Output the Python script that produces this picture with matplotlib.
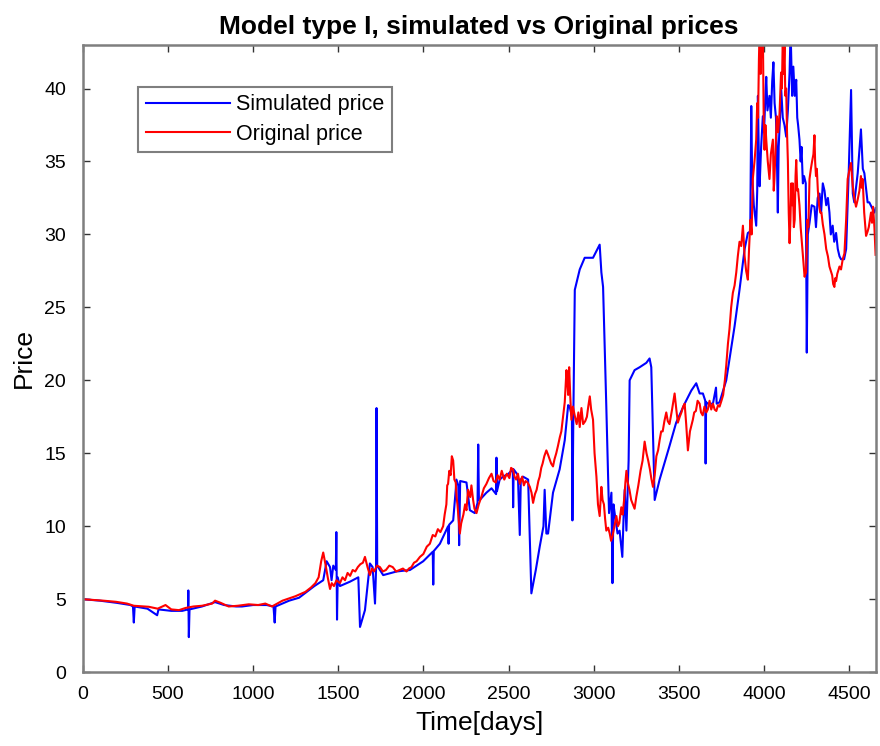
import matplotlib.pyplot as plt

# serie simulada (modelo tipo I) - dias e preco
sim_dias = [0, 100, 200, 280, 295, 300, 305, 380, 437, 445, 520, 584, 618, 620, 623, 627,
            700, 777, 830, 900, 935, 1000, 1080, 1120, 1127, 1132, 1212, 1270, 1315, 1360,
            1412, 1432, 1452, 1461, 1471, 1486, 1489, 1493, 1497, 1510, 1569, 1618, 1628,
            1657, 1686, 1702, 1716, 1722, 1725, 1729, 1764, 1843, 1921, 1999, 2055, 2058,
            2061, 2097, 2145, 2148, 2151, 2175, 2190, 2194, 2205, 2210, 2216, 2253, 2273,
            2302, 2318, 2322, 2326, 2331, 2370, 2400, 2427, 2429, 2432, 2448, 2468, 2500,
            2525, 2527, 2530, 2555, 2566, 2572, 2585, 2615, 2634, 2660, 2683, 2705, 2712,
            2722, 2732, 2761, 2800, 2830, 2850, 2859, 2872, 2875, 2880, 2889, 2918, 2947,
            2996, 3035, 3045, 3055, 3074, 3090, 3104, 3110, 3116, 3123, 3140, 3152, 3168,
            3175, 3182, 3192, 3205, 3211, 3240, 3270, 3309, 3328, 3338, 3358, 3387, 3445,
            3484, 3534, 3573, 3602, 3622, 3641, 3655, 3657, 3660, 3671, 3700, 3718, 3722,
            3739, 3778, 3798, 3827, 3856, 3886, 3905, 3919, 3925, 3930, 3940, 3954, 3960,
            3964, 3970, 3974, 3983, 3993, 4000, 4008, 4013, 4020, 4032, 4040, 4048, 4055,
            4062, 4070, 4076, 4081, 4086, 4090, 4101, 4110, 4120, 4130, 4140, 4150, 4156,
            4160, 4165, 4172, 4180, 4189, 4195, 4200, 4208, 4215, 4220, 4228, 4235, 4245,
            4251, 4257, 4267, 4280, 4296, 4305, 4315, 4326, 4335, 4345, 4355, 4365, 4375,
            4384, 4392, 4403, 4412, 4423, 4433, 4443, 4452, 4470, 4482, 4497, 4511, 4521,
            4530, 4550, 4569, 4580, 4589, 4608, 4618, 4648, 4655]
sim_preco = [5.0, 4.9, 4.75, 4.6, 4.5, 3.4, 4.5, 4.35, 3.9, 4.3, 4.2, 4.2, 4.3, 5.6, 2.4, 4.3,
             4.5, 4.8, 4.6, 4.5, 4.5, 4.6, 4.6, 4.5, 3.4, 4.5, 4.9, 5.1, 5.5, 5.9,
             6.3, 7.6, 7.2, 6.3, 7.3, 7.0, 9.6, 3.6, 6.5, 5.9, 6.2, 6.5, 3.1,
             4.25, 7.45, 7.2, 4.7, 7.0, 18.1, 7.3, 6.65, 6.9, 7.0, 7.6, 8.25, 6.0,
             8.3, 8.8, 10.0, 8.8, 10.1, 10.4, 12.5, 13.2, 12.8, 8.7, 13.1, 13.0, 11.1,
             10.9, 11.6, 15.6, 11.8, 11.8, 12.3, 12.6, 12.2, 14.7, 12.4, 13.2, 13.4, 13.6,
             13.9, 11.3, 13.9, 13.5, 9.4, 13.2, 13.4, 13.2, 5.4, 7.0, 8.6, 10.0, 12.5,
             9.5, 9.5, 12.3, 13.9, 15.9, 18.3, 18.2, 17.5, 10.4, 17.0, 26.2, 27.6, 28.4,
             28.4, 29.3, 27.4, 26.4, 18.2, 10.9, 12.3, 6.1, 11.5, 10.9, 9.5, 9.7, 7.9,
             10.5, 12.5, 9.7, 14.5, 20.0, 20.7, 20.9, 21.2, 21.5, 20.9, 11.8, 13.2, 15.5,
             17.1, 18.4, 19.3, 19.8, 19.1, 19.1, 18.6, 14.3, 18.5, 18.4, 18.4, 19.5, 18.4,
             18.5, 20.0, 21.5, 23.7, 26.2, 29.0, 30.1, 30.2, 38.8, 34.2, 32.0, 30.6, 33.0,
             39.5, 35.0, 33.3, 36.0, 38.1, 37.0, 39.5, 40.8, 38.5, 39.5, 38.0, 40.5, 41.8,
             39.0, 38.0, 35.0, 31.5, 36.0, 37.0, 39.9, 38.0, 37.5, 36.7, 38.5, 41.1, 44.0,
             42.0, 39.5, 41.5, 39.5, 40.6, 38.0, 37.5, 36.5, 35.0, 36.0, 33.5, 34.0, 33.5,
             21.9, 30.0, 30.8, 32.0, 31.9, 30.5, 32.5, 32.8, 31.5, 33.5, 33.0, 32.0, 32.5,
             31.5, 30.0, 30.6, 29.5, 30.1, 29.0, 28.5, 28.3, 28.3, 29.0, 34.2, 39.9, 32.8,
             32.2, 34.2, 37.2, 34.5, 34.2, 32.2, 32.2, 31.5, 31.8]

# serie original
orig_dias = [0, 60, 120, 196, 260, 300, 388, 440, 486, 520, 565, 604, 650, 700, 760, 777, 810,
             857, 910, 975, 1030, 1072, 1111, 1173, 1248, 1307, 1340, 1366, 1385, 1400, 1412,
             1425, 1440, 1452, 1462, 1475, 1490, 1510, 1525, 1540, 1555, 1570, 1585, 1600,
             1615, 1630, 1645, 1657, 1672, 1686, 1698, 1710, 1728, 1745, 1762, 1780, 1800,
             1820, 1840, 1860, 1880, 1901, 1915, 1930, 1945, 1960, 1980, 2000, 2020, 2038,
             2055, 2070, 2085, 2100, 2116, 2125, 2135, 2140, 2145, 2152, 2160, 2167, 2175,
             2182, 2190, 2195, 2200, 2207, 2214, 2222, 2235, 2245, 2253, 2262, 2275, 2282,
             2292, 2300, 2312, 2325, 2340, 2355, 2370, 2385, 2400, 2412, 2425, 2436, 2448,
             2460, 2475, 2490, 2505, 2515, 2526, 2535, 2545, 2555, 2566, 2580, 2590, 2600,
             2612, 2625, 2635, 2644, 2655, 2665, 2675, 2683, 2692, 2700, 2710, 2722, 2732,
             2741, 2750, 2761, 2770, 2780, 2790, 2801, 2810, 2820, 2830, 2840, 2845, 2850,
             2856, 2862, 2869, 2878, 2890, 2900, 2910, 2918, 2928, 2938, 2950, 2960, 2968,
             2977, 2985, 2996, 3005, 3016, 3025, 3035, 3045, 3052, 3060, 3067, 3074, 3085,
             3094, 3102, 3110, 3120, 3133, 3142, 3150, 3162, 3170, 3180, 3186, 3192, 3200,
             3210, 3220, 3230, 3240, 3250, 3262, 3275, 3287, 3299, 3310, 3320, 3330, 3338,
             3348, 3358, 3368, 3378, 3387, 3396, 3405, 3415, 3426, 3435, 3445, 3460, 3475,
             3485, 3494, 3505, 3515, 3525, 3534, 3543, 3553, 3565, 3582, 3590, 3600, 3610,
             3622, 3630, 3640, 3650, 3661, 3670, 3680, 3690, 3700, 3710, 3720, 3730, 3739,
             3750, 3760, 3770, 3778, 3788, 3797, 3807, 3817, 3827, 3837, 3846, 3856, 3866,
             3876, 3886, 3895, 3905, 3912, 3920, 3927, 3934, 3944, 3954, 3960, 3965, 3970,
             3974, 3980, 3985, 3993, 3998, 4003, 4008, 4013, 4022, 4032, 4040, 4052, 4057,
             4061, 4068, 4075, 4083, 4091, 4100, 4105, 4110, 4115, 4120, 4125, 4130, 4135,
             4140, 4145, 4150, 4155, 4160, 4165, 4169, 4175, 4180, 4185, 4189, 4195, 4200,
             4208, 4215, 4225, 4232, 4238, 4247, 4255, 4260, 4267, 4275, 4282, 4290, 4296,
             4300, 4305, 4310, 4316, 4323, 4330, 4337, 4345, 4355, 4365, 4375, 4384, 4392,
             4400, 4406, 4413, 4418, 4423, 4430, 4443, 4452, 4462, 4472, 4482, 4491, 4501,
             4511, 4516, 4521, 4530, 4540, 4550, 4560, 4569, 4574, 4579, 4588, 4599, 4608,
             4615, 4628, 4634, 4640, 4648, 4655]
orig_preco = [5.0, 4.95, 4.9, 4.82, 4.7, 4.55, 4.48, 4.35, 4.6, 4.3, 4.25, 4.4, 4.5, 4.55, 4.7,
              4.9, 4.75, 4.5, 4.55, 4.65, 4.6, 4.7, 4.5, 4.9, 5.2, 5.5, 5.8, 6.1, 6.5, 7.6, 8.2,
              7.4, 6.4, 5.7, 6.1, 5.9, 6.3, 6.1, 6.5, 6.3, 6.8, 6.6, 7.0, 6.9,
              7.2, 7.4, 7.5, 7.9, 7.2, 6.65, 7.1, 6.9, 7.3, 7.2, 6.9, 7.0, 7.3,
              7.2, 6.9, 7.0, 7.1, 6.9, 7.1, 7.2, 7.5, 7.6, 7.9, 8.1, 8.6, 8.8,
              9.4, 9.3, 9.8, 9.6, 10.0, 10.8, 11.5, 12.8, 12.9, 13.8, 13.5, 14.8, 14.5,
              13.2, 13.0, 12.0, 11.5, 10.5, 9.5, 10.2, 10.8, 11.5, 11.1, 12.5, 12.0, 12.8,
              11.8, 11.2, 10.9, 11.5, 12.0, 12.6, 12.9, 13.3, 13.6, 13.1, 13.0, 13.5, 13.2,
              13.8, 13.2, 13.6, 13.3, 14.0, 13.9, 13.4, 13.2, 13.6, 12.9, 13.4, 12.8, 13.1,
              13.0, 12.7, 12.3, 11.6, 12.2, 12.5, 13.1, 13.4, 14.0, 14.3, 14.8, 15.2, 14.9,
              14.6, 14.3, 14.1, 14.6, 15.0, 15.5, 16.1, 16.5, 17.5, 18.5, 20.7, 20.0, 19.0,
              20.9, 19.0, 17.3, 18.2, 17.5, 17.0, 17.8, 16.8, 18.1, 17.0, 17.2, 17.5, 18.2,
              18.9, 18.0, 17.3, 15.0, 13.4, 11.5, 10.7, 12.7, 11.8, 11.5, 10.5, 9.7, 9.9,
              9.5, 9.0, 9.3, 9.9, 10.7, 10.0, 10.2, 11.3, 10.8, 12.0, 13.0, 13.8, 13.0,
              12.5, 11.8, 11.5, 11.2, 12.0, 12.8, 13.8, 14.5, 15.8, 15.0, 14.5, 13.9, 13.3,
              12.7, 13.5, 14.8, 15.2, 15.9, 16.5, 16.5, 17.2, 17.8, 17.2, 17.0, 18.0, 19.1,
              18.0, 17.1, 17.5, 17.8, 18.2, 18.4, 17.0, 15.2, 16.5, 17.3, 17.8, 17.9, 18.6,
              18.4, 17.8, 17.6, 18.2, 17.8, 18.0, 18.6, 18.0, 18.4, 18.0, 17.9, 18.3, 18.2,
              18.6, 19.0, 20.0, 21.0, 22.5, 23.5, 25.0, 26.0, 26.5, 27.4, 28.5, 29.5, 29.2,
              30.6, 28.5, 27.5, 26.9, 29.0, 31.0, 30.0, 33.8, 35.0, 36.5, 39.0, 38.0, 42.0,
              44.0, 41.0, 43.5, 44.0, 38.0, 35.8, 37.5, 36.5, 35.0, 33.8, 35.5, 36.5, 33.0,
              33.8, 36.0, 38.1, 37.0, 38.3, 41.1, 40.0, 43.5, 41.0, 42.9, 39.5, 40.0, 37.0,
              35.0, 31.5, 29.4, 31.0, 33.5, 32.0, 33.5, 30.5, 31.0, 34.0, 35.1, 33.0, 33.1,
              32.0, 30.5, 29.0, 28.0, 27.1, 27.4, 31.0, 30.5, 33.8, 34.5, 35.0, 35.5, 36.8,
              35.0, 34.0, 34.5, 33.0, 32.0, 31.5, 31.5, 30.7, 30.0, 29.0, 28.5, 27.8, 27.5,
              27.2, 26.6, 26.4, 27.0, 26.8, 27.3, 27.8, 27.6, 28.3, 28.7, 31.0, 33.8, 34.4,
              34.9, 34.0, 33.3, 32.5, 31.9, 32.4, 33.0, 34.0, 33.2, 33.8, 31.5, 29.9, 30.2,
              30.5, 31.5, 30.8, 31.9, 30.5, 28.6]

xticks = [0, 500, 1000, 1500, 2000, 2500, 3000, 3500, 4000, 4500]
yticks = [0, 5, 10, 15, 20, 25, 30, 35, 40]

plt.rcParams['font.family'] = ['Liberation Sans', 'DejaVu Sans']
cinza = '#7f7f7f'

fig = plt.figure(figsize=(8.8, 7.46), dpi=100)
ax = fig.add_axes([0.094, 0.099, 0.901, 0.841])

ax.plot(sim_dias, sim_preco, color='#0000ff', lw=1.5, label='Simulated price')
ax.plot(orig_dias, orig_preco, color='#ff0000', lw=1.5, label='Original price')

ax.set_xlim(0, 4655)
ax.set_ylim(0, 43)
ax.set_xticks(xticks)
ax.set_yticks(yticks)
ax.tick_params(direction='in', length=5, width=1, color='#333333',
               top=True, right=True, labelsize=14)
ax.tick_params(axis='y', pad=12)
ax.tick_params(axis='x', pad=10)
for s in ax.spines.values():
    s.set_color(cinza)
    s.set_linewidth(1.8)

ax.set_title('Model type I, simulated vs Original prices', fontsize=19,
             fontweight='bold', pad=8)
ax.set_xlabel('Time[days]', fontsize=19, labelpad=6)
ax.set_ylabel('Price', fontsize=19, labelpad=6)

leg = ax.legend(loc='upper left', bbox_to_anchor=(0.07, 0.933), fontsize=15.5,
                frameon=True, fancybox=False, framealpha=1, edgecolor=cinza,
                handlelength=3.9, handletextpad=0.28, borderpad=0.35,
                labelspacing=0.4, borderaxespad=0)
leg.get_frame().set_linewidth(1.5)

fig.savefig('out.png', dpi=100)
